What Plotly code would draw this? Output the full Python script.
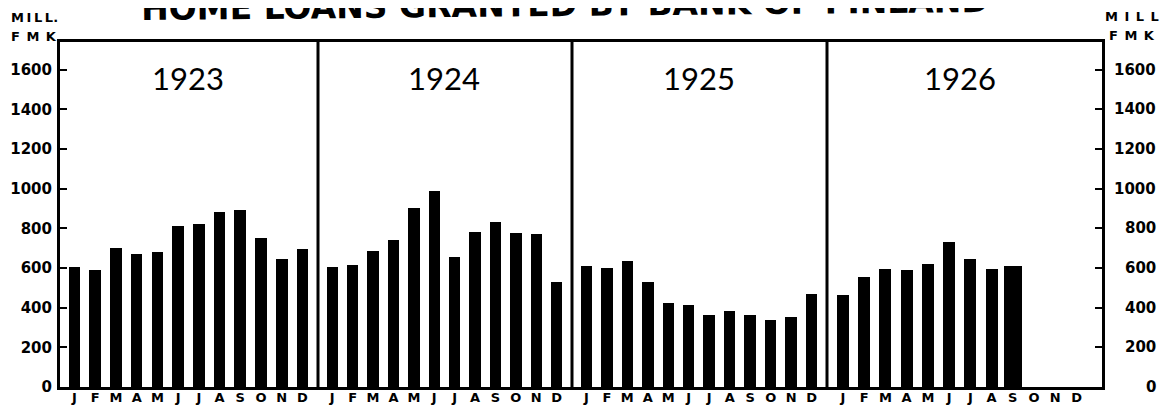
import plotly.graph_objects as go

# ---------------- data ----------------
years = ["1923", "1924", "1925", "1926"]
months = ["J", "F", "M", "A", "M", "J", "J", "A", "S", "O", "N", "D"]
loans_1923 = [605, 592, 703, 670, 683, 810, 820, 883, 893, 753, 647, 695]
loans_1924 = [607, 617, 687, 742, 902, 987, 657, 782, 832, 777, 770, 530]
loans_1925 = [610, 598, 637, 530, 425, 413, 362, 382, 365, 340, 352, 470]
loans_1926 = [463, 553, 595, 588, 618, 730, 647, 597, 608]
y_ticks = [0, 200, 400, 600, 800, 1000, 1200, 1400, 1600]
title_text = "HOME LOANS GRANTED BY BANK OF FINLAND"
unit_left = ["M\u2009I\u2009L\u2009L.", "F\u2002M\u2002K"]
unit_right = ["M\u2002I\u2002L\u2002L", "F\u2002M\u2002K"]

# ---------------- geometry (window pixel coordinates) ----------------
SW, SH = 1172, 415            # browser window
OFF = 8                       # default page margin around the figure
FW, FH = SW - 2 * OFF, SH - 2 * OFF   # figure fits the window, no scrolling
X_LEFT, X_RIGHT, Y_TOP, Y_BOT = 60, 1102, 42, 387   # plot frame in window
ML, MT = X_LEFT - OFF, Y_TOP - OFF
MR, MB = (OFF + FW) - X_RIGHT, (OFF + FH) - Y_BOT
PW = FW - ML - MR
PH = FH - MT - MB
panel_edges = [60, 318, 572, 827, 1102]
domains = [[(panel_edges[i] - X_LEFT) / PW, (panel_edges[i + 1] - X_LEFT) / PW]
           for i in range(4)]
ranges = [[0.3, 12.75], [0.3, 12.75], [0.3, 12.75], [0.25, 13.2]]
Y_MAX = 1740


def px_x(p):
    return (p - X_LEFT) / PW


def px_y(p):
    return (Y_BOT - p) / PH


BOLD = "DejaVu Sans"

fig = go.Figure()
series = [loans_1923, loans_1924, loans_1925, loans_1926]
xnames = ["x", "x2", "x3", "x4"]
for i, vals in enumerate(series):
    n = len(vals)
    widths = [0.56] * n
    if i == 3:
        widths[-1] = 0.84
    fig.add_trace(go.Bar(
        x=list(range(1, n + 1)), y=vals, width=widths,
        marker=dict(color="black", line=dict(width=0)),
        xaxis=xnames[i], yaxis="y2" if i == 3 else "y",
        showlegend=False, name=years[i],
    ))

layout = dict(
    width=FW, height=FH, autosize=False,
    margin=dict(l=ML, r=MR, t=MT, b=MB, pad=0, autoexpand=False),
    paper_bgcolor="white", plot_bgcolor="white",
    bargap=0,
    showlegend=False,
)
for i in range(4):
    key = "xaxis" if i == 0 else f"xaxis{i + 1}"
    layout[key] = dict(
        domain=domains[i], range=ranges[i], anchor="y",
        tickmode="array", tickvals=list(range(1, 13)), ticktext=months,
        tickfont=dict(family=BOLD, size=13, color="black", weight="bold"),
        ticks="", showgrid=False, zeroline=False, automargin=False,
        showline=True, linecolor="black", linewidth=3, mirror=True,
        ticklabelstandoff=-4, fixedrange=True,
    )
layout["yaxis"] = dict(
    range=[0, Y_MAX], anchor="x", side="left",
    tickmode="array", tickvals=y_ticks,
    tickfont=dict(family=BOLD, size=15, color="black", weight="bold"),
    ticks="inside", ticklen=7, tickwidth=2, tickcolor="black",
    showgrid=False, zeroline=False, automargin=False,
    showline=True, linecolor="black", linewidth=3,
    ticklabelstandoff=2,
)
layout["yaxis2"] = dict(
    range=[0, Y_MAX], anchor="x4", side="right", overlaying="y", matches="y",
    tickmode="array", tickvals=y_ticks[1:],
    showticklabels=False, automargin=False,
    ticks="inside", ticklen=7, tickwidth=2, tickcolor="black",
    showgrid=False, zeroline=False,
    showline=True, linecolor="black", linewidth=3,
)
fig.update_layout(**layout)

# panel separators
for d in domains[1:]:
    fig.add_shape(type="line", xref="paper", yref="paper",
                  x0=d[0], x1=d[0], y0=0, y1=1,
                  line=dict(color="black", width=3))

annotations = []
# year labels
for i, yr in enumerate(years):
    annotations.append(dict(
        text=yr, xref=xnames[i], x=6.5, yref="paper", y=px_y(78),
        showarrow=False, xanchor="center", yanchor="middle",
        font=dict(family="Lato", size=31, color="black"),
    ))
# right tick labels (right aligned)
for v in y_ticks:
    annotations.append(dict(
        text=str(v), xref="paper", x=px_x(1158), yref="y", y=v,
        showarrow=False, xanchor="right", yanchor="middle",
        font=dict(family=BOLD, size=15, color="black", weight="bold"),
    ))
# unit labels
unit_font = dict(family=BOLD, size=13, color="black", weight="bold")
annotations += [
    dict(text=unit_left[0], xref="paper", x=px_x(34), yref="paper", y=px_y(18),
         showarrow=False, xanchor="center", yanchor="middle", font=unit_font),
    dict(text=unit_left[1], xref="paper", x=px_x(34), yref="paper", y=px_y(36),
         showarrow=False, xanchor="center", yanchor="middle", font=unit_font),
    dict(text=unit_right[0], xref="paper", x=px_x(1132), yref="paper", y=px_y(17),
         showarrow=False, xanchor="center", yanchor="middle", font=unit_font),
    dict(text=unit_right[1], xref="paper", x=px_x(1132), yref="paper", y=px_y(35),
         showarrow=False, xanchor="center", yanchor="middle", font=unit_font),
]
# title (partly cut off at the top edge, slightly tilted like the scan)
annotations.append(dict(
    text=title_text, xref="paper", x=px_x(565), yref="paper", y=px_y(4),
    showarrow=False, xanchor="center", yanchor="middle", textangle=-0.55,
    font=dict(family=BOLD, size=33, color="black", weight="bold"),
))
fig.update_layout(annotations=annotations)

fig.write_html("out.html")
